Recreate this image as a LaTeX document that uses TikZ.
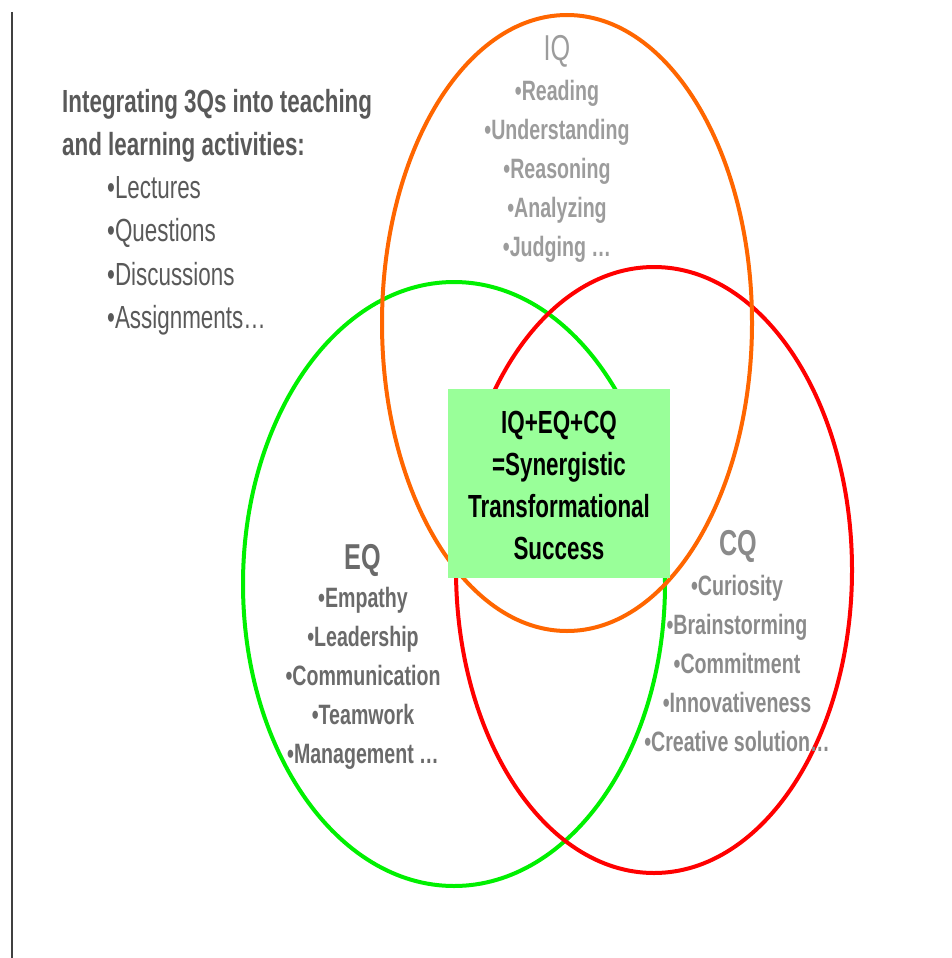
\documentclass[tikz,border=0pt]{standalone}
\usepackage{fontspec}
\setmainfont{Liberation Sans}[FakeStretch=0.7]
\definecolor{qorange}{HTML}{FF6600}
\definecolor{qgreen}{HTML}{00F000}
\definecolor{qred}{HTML}{FF0000}
\definecolor{boxgreen}{HTML}{99FF99}
\definecolor{txtdark}{HTML}{595959}
\definecolor{iqgray}{HTML}{9C9C9C}
\definecolor{eqgray}{HTML}{6A6A6A}
\definecolor{cqgray}{HTML}{8A8A8A}

\begin{document}
\begin{tikzpicture}[x=1pt,y=-1pt,
 ring/.style={line width=4pt},
 hd/.style={font=\fontsize{36}{36}\selectfont\bfseries,anchor=base,inner sep=0pt},
 itm/.style={font=\fontsize{28}{28}\selectfont\bfseries,anchor=base,inner sep=0pt},
 lft/.style={font=\fontsize{32}{32}\selectfont,text=txtdark,anchor=base west,inner sep=0pt},
 sumbox/.style={fill=boxgreen,minimum width=222pt,minimum height=189pt,inner sep=0pt}]
\useasboundingbox (0,0) rectangle (952,958);
\draw[line width=1.2pt,black!75] (12,12)--(12,958);
% the three rings
\draw[ring,qgreen] (454,584) ellipse [x radius=211pt,y radius=302pt];
\draw[ring,qred] (654,570) ellipse [x radius=198pt,y radius=303pt];
\draw[ring,qorange] (567,323) ellipse [x radius=185pt,y radius=308pt];
% activities
\node[lft,font=\fontsize{32}{32}\selectfont\bfseries] (act-0) at (62,112) {Integrating 3Qs into teaching};
\node[lft,font=\fontsize{32}{32}\selectfont\bfseries] (act-1) at (62,155) {and learning activities:};
\foreach \n/\txt in {0/Lectures,1/Questions,2/Discussions,3/{Assignments…}}
 \node[lft] (way-\n) at (107,198+43.5*\n) {•\txt};
% IQ
\node[hd,font=\fontsize{36}{36}\selectfont,text=iqgray] (IQ) at (557,60) {IQ};
\foreach \n/\txt in {0/Reading,1/Understanding,2/Reasoning,3/Analyzing,4/{Judging …}}
 \node[itm,text=iqgray] (IQ-\n) at (557,100+39*\n) {•\txt};
% EQ
\node[hd,text=eqgray] (EQ) at (363,569) {EQ};
\foreach \n/\txt in {0/Empathy,1/Leadership,2/Communication,3/Teamwork,4/{Management …}}
 \node[itm,text=eqgray] (EQ-\n) at (363,607+39*\n) {•\txt};
% CQ
\node[hd,text=cqgray] (CQ) at (738,555) {CQ};
\foreach \n/\txt in {0/Curiosity,1/Brainstorming,2/Commitment,3/Innovativeness,4/{Creative solution…}}
 \node[itm,text=cqgray] (CQ-\n) at (737,595+39*\n) {•\txt};
% sum in the middle
\node[sumbox] (sum) at (559,483.5) {};
\foreach \n/\txt in {0/IQ+EQ+CQ,1/=Synergistic,2/Transformational,3/Success}
 \node[itm,font=\fontsize{32}{32}\selectfont\bfseries] (sum-\n) at (559,433+42*\n) {\txt};
\end{tikzpicture}
\end{document}
